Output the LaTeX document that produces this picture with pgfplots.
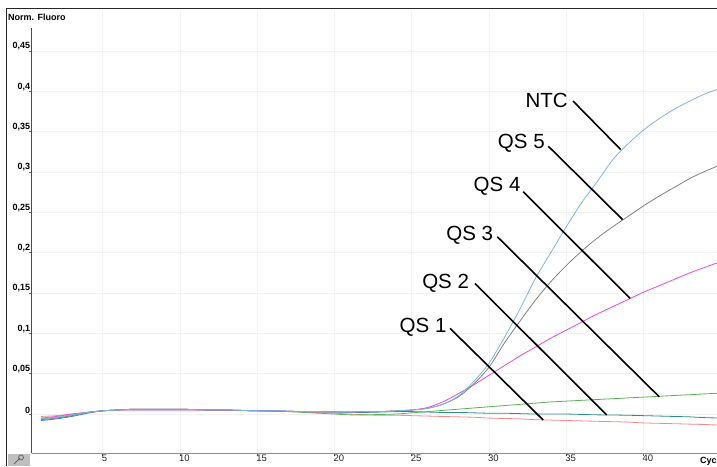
\documentclass[border=0pt]{standalone}
\usepackage{fontspec}
\setmainfont{Liberation Sans}
\usepackage{pgfplots}
\usepackage{pgfplotstable}
\pgfplotsset{compat=1.18}
\definecolor{cNTC}{HTML}{7DB4E6}
\definecolor{cQSv}{HTML}{808080}
\definecolor{cQSiv}{HTML}{E44CE4}
\definecolor{cQSiii}{HTML}{5CB05C}
\definecolor{cQSii}{HTML}{2E8B8B}
\definecolor{cQSi}{HTML}{F28A8A}
\pgfplotstableread{
x ntc qsv qsiv qsiii qsii qsi
1 -0.006 -0.007 -0.005 -0.006 -0.008 -0.003
2 -0.004 -0.005 -0.003 -0.004 -0.006 -0.002
3 -0.001 -0.002 0.000 -0.001 -0.003 0.000
4 0.002 0.002 0.002 0.002 0.001 0.002
5 0.004 0.004 0.004 0.004 0.004 0.004
6 0.005 0.005 0.005 0.005 0.005 0.005
7 0.006 0.006 0.005 0.006 0.006 0.005
8 0.006 0.006 0.005 0.006 0.006 0.005
9 0.006 0.006 0.005 0.006 0.006 0.005
10 0.006 0.006 0.005 0.006 0.006 0.005
11 0.0055 0.0055 0.005 0.0055 0.0055 0.005
12 0.005 0.005 0.0048 0.005 0.005 0.0048
13 0.005 0.005 0.0046 0.0048 0.005 0.0046
14 0.0045 0.0045 0.0044 0.0045 0.0045 0.0044
15 0.004 0.004 0.004 0.004 0.004 0.004
16 0.004 0.004 0.0038 0.0035 0.004 0.0036
17 0.0035 0.0035 0.0034 0.003 0.0035 0.0032
18 0.003 0.003 0.003 0.002 0.003 0.0025
19 0.003 0.003 0.003 0.001 0.0028 0.0018
20 0.0025 0.0025 0.0025 0.000 0.0025 0.001
21 0.0025 0.0025 0.0025 -0.001 0.0022 0.000
22 0.003 0.003 0.003 -0.001 0.002 -0.001
23 0.003 0.003 0.003 -0.0005 0.0025 -0.0015
24 0.004 0.004 0.004 0.000 0.003 -0.0015
25 0.005 0.005 0.005 0.0015 0.003 -0.002
26 0.007 0.007 0.008 0.003 0.0025 -0.0025
27 0.012 0.012 0.015 0.0045 0.002 -0.003
28 0.022 0.021 0.025 0.006 0.002 -0.0035
29 0.040 0.037 0.036 0.0075 0.0015 -0.004
30 0.063 0.058 0.048 0.009 0.001 -0.005
31 0.095 0.088 0.060 0.0105 0.001 -0.0055
32 0.130 0.115 0.072 0.012 0.0005 -0.006
33 0.168 0.141 0.083 0.0135 0.000 -0.007
34 0.200 0.164 0.094 0.015 0.000 -0.0075
35 0.232 0.184 0.104 0.016 0.000 -0.008
36 0.262 0.202 0.114 0.017 -0.0005 -0.0085
37 0.288 0.218 0.124 0.018 -0.001 -0.009
38 0.315 0.232 0.133 0.019 -0.0012 -0.0095
39 0.335 0.245 0.142 0.020 -0.0015 -0.010
40 0.352 0.258 0.151 0.021 -0.002 -0.011
41 0.366 0.270 0.159 0.022 -0.0025 -0.0115
42 0.378 0.281 0.167 0.023 -0.003 -0.012
43 0.388 0.292 0.175 0.024 -0.0035 -0.0125
44 0.397 0.301 0.182 0.025 -0.0045 -0.013
45 0.404 0.309 0.189 0.026 -0.005 -0.0138
}\curves
\begin{document}
\begin{tikzpicture}
\begin{axis}[
  name=ax, scale only axis,
  width=685pt, height=442.3pt,
  xmin=0.42, xmax=44.76, ymin=-0.0483, ymax=0.5,
  axis x line*=bottom, axis y line*=left,
  x axis line style={draw=black!45, line width=1pt, -},
  y axis line style={draw=black!70, line width=1pt, -},
  xtick={5,10,15,20,25,30,35,40},
  ytick={0,0.05,0.1,0.15,0.2,0.25,0.3,0.35,0.4,0.45},
  grid=major, major grid style={draw=black!5, line width=0.6pt},
  tick align=outside, major tick length=3pt,
  tick style={draw=black!60, line width=0.6pt},
  /pgf/number format/assume math mode=true,
  /pgf/number format/use comma, /pgf/number format/fixed,
  yticklabel style={font=\bfseries\fontsize{9}{10}\selectfont, anchor=south east, inner sep=0.6pt, xshift=2pt},
  xticklabel style={font=\fontsize{9.5}{10}\selectfont, text=black!85, anchor=north west, inner sep=0.5pt, xshift=-1.5pt, yshift=2pt},
  every axis plot/.append style={line width=0.8pt, smooth, no marks},
]
\coordinate (BL) at (rel axis cs:0,0);
\addplot[cQSi] table[x=x,y=qsi] {\curves};
\addplot[cQSii] table[x=x,y=qsii] {\curves};
\addplot[cQSiii] table[x=x,y=qsiii] {\curves};
\addplot[cQSiv] table[x=x,y=qsiv] {\curves};
\addplot[cQSv] table[x=x,y=qsv] {\curves};
\addplot[cNTC] table[x=x,y=ntc] {\curves};
\begin{scope}[line width=1.6pt, black]
\draw (axis cs:35.44,0.388) -- (axis cs:38.52,0.328);
\draw (axis cs:33.84,0.332) -- (axis cs:38.65,0.241);
\draw (axis cs:32.22,0.2756) -- (axis cs:39.13,0.1434);
\draw (axis cs:30.54,0.2198) -- (axis cs:41.02,0.0214);
\draw (axis cs:29.09,0.162) -- (axis cs:37.62,-0.0012);
\draw (axis cs:27.48,0.1062) -- (axis cs:33.51,-0.0074);
\end{scope}
\begin{scope}[every node/.style={font=\fontsize{20.5}{22}\selectfont, anchor=east, inner sep=0pt}]
\node at (axis cs:35.11,0.389) {NTC};
\node at (axis cs:33.62,0.336) {QS 5};
\node at (axis cs:32.05,0.2818) {QS 4};
\node at (axis cs:30.28,0.2219) {QS 3};
\node at (axis cs:28.72,0.162) {QS 2};
\node at (axis cs:27.26,0.108) {QS 1};
\end{scope}
\end{axis}
\begin{scope}[shift={(BL)}, xshift=-32pt, yshift=-13pt, x=1pt, y=1pt]
\pgfresetboundingbox
\useasboundingbox (0,0) rectangle (717,466);
\fill[white] (30,438) rectangle (34,456);
\node[anchor=west, inner sep=0pt, font=\bfseries\fontsize{9}{10}\selectfont] at (8,449) {Norm. Fluoro};
\draw[line width=1pt, black!85] (7,0) -- (7,457.5) -- (717,457.5);
\fill[black!25] (8,0) rectangle (30,12.5);
\draw[black!60, line width=0.8pt] (14,2) -- (20,8);
\draw[black!60, line width=0.8pt] (21,8.5) circle (2.5);
\node[anchor=west, inner sep=0pt, font=\bfseries\fontsize{9}{10}\selectfont] at (700,5) {Cycle};
\end{scope}
\end{tikzpicture}
\end{document}
